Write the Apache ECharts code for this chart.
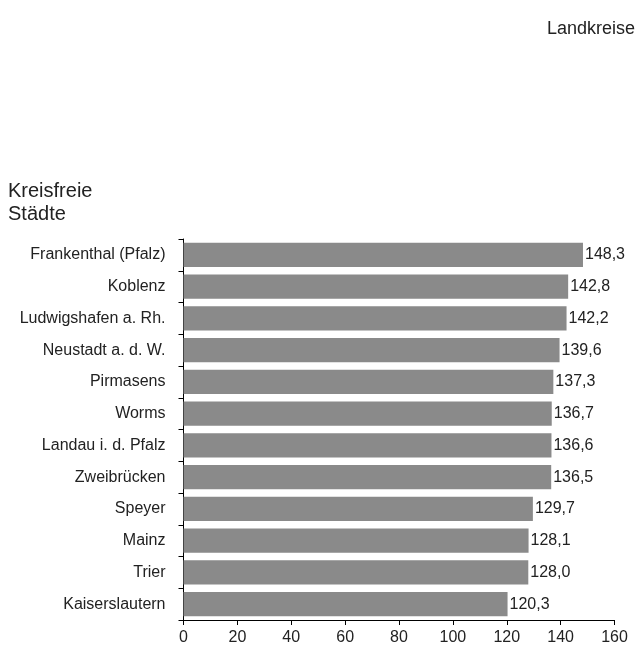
<!DOCTYPE html>
<html><head><meta charset="utf-8">
<script src="https://cdn.jsdelivr.net/npm/echarts@6/dist/echarts.min.js"></script>
<style>html,body{margin:0;padding:0;background:#fff}#c{width:640px;height:646px}</style>
</head><body><div id="c"></div>
<script>
const categories = ["Frankenthal (Pfalz)","Koblenz","Ludwigshafen a. Rh.","Neustadt a. d. W.","Pirmasens","Worms","Landau i. d. Pfalz","Zweibrücken","Speyer","Mainz","Trier","Kaiserslautern"];
const values = [148.3,142.8,142.2,139.6,137.3,136.7,136.6,136.5,129.7,128.1,128.0,120.3];
const xTicks = [0,20,40,60,80,100,120,140,160];
const font = "'Liberation Sans', Arial, Helvetica, sans-serif";
const chart = echarts.init(document.getElementById('c'), null, {renderer:'canvas'});
chart.setOption({
  animation:false,
  textStyle:{fontFamily:font},
  title:[
    {text:'Landkreise', right:0, top:15, textStyle:{fontFamily:font, fontSize:18, fontWeight:'normal', color:'#222'}},
    {text:'Kreisfreie\nStädte', left:3, top:175, textStyle:{fontFamily:font, fontSize:20, fontWeight:'normal', color:'#222', lineHeight:23}}
  ],
  grid:{left:183.5, right:25.5, top:239, bottom:26, containLabel:false},
  xAxis:{type:'value', min:xTicks[0], max:xTicks[xTicks.length-1], interval:20,
    axisLine:{show:true, lineStyle:{color:'#000', width:1}},
    axisTick:{show:true, length:5, lineStyle:{color:'#000'}},
    splitLine:{show:false},
    axisLabel:{fontSize:16, color:'#222', margin:10, fontFamily:font}},
  yAxis:{type:'category', inverse:true, data:categories,
    axisLine:{show:true, lineStyle:{color:'#000', width:1}},
    axisTick:{show:true, length:5, lineStyle:{color:'#000'}},
    axisLabel:{fontSize:16, color:'#222', margin:18, fontFamily:font}},
  series:[{type:'bar', data:values, barCategoryGap:'24%',
    itemStyle:{color:'#8a8a8a'},
    label:{show:true, position:'right', distance:2, fontSize:16, color:'#222', fontFamily:font,
      formatter:p=>p.value.toFixed(1).replace('.',',')}}]
});
</script></body></html>
